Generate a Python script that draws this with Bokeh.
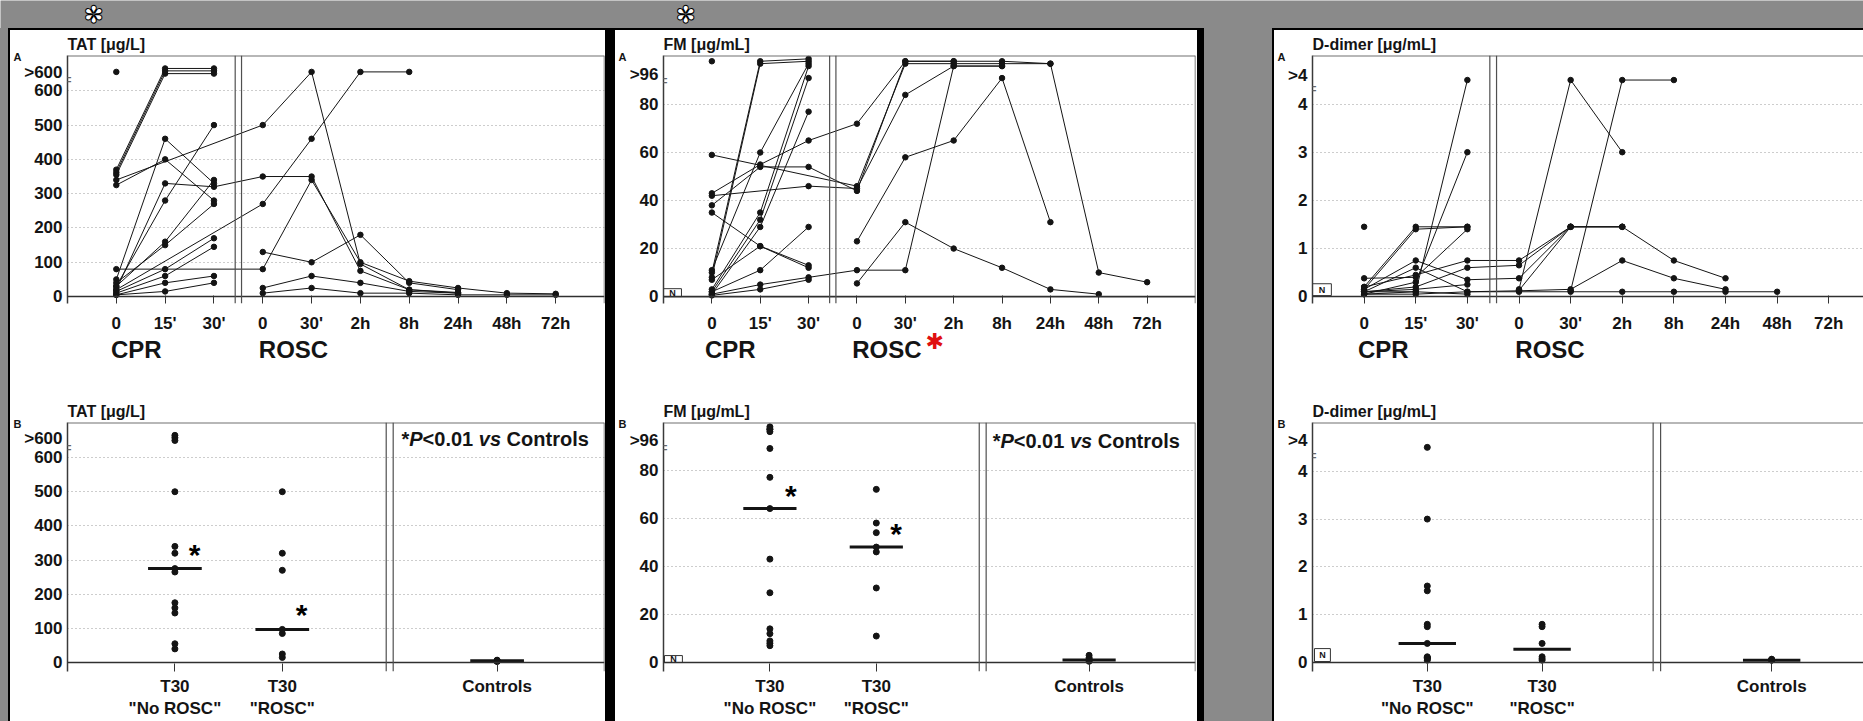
from bokeh.plotting import figure
from bokeh.models import Range1d, FixedTicker, LinearAxis, Span, Label, Div
from bokeh.layouts import row, column
from bokeh.embed import file_html
from bokeh.resources import INLINE

GRAY = "#8a8a8a"
INK = "#141414"
FONT = "Liberation Sans"
N = None

# ---------------- data ----------------
TIME_LABELS = ["0", "15'", "30'", "0", "30'", "2h", "8h", "24h", "48h", "72h"]
PHASE_LABELS = ["CPR", "ROSC"]
GROUP_LABELS = ['T30\n"No ROSC"', 'T30\n"ROSC"', "Controls"]

TAT_TICK_LABELS = ["0", "100", "200", "300", "400", "500", "600", ">600"]
FM_TICK_LABELS = ["0", "20", "40", "60", "80", ">96"]
DD_TICK_LABELS = ["0", "1", "2", "3", "4", ">4"]

# panel A: one list per patient, positions = TIME_LABELS (None = not measured)
TAT_A = [
    [370, 665, 665],
    [362, 658, 658],
    [355, 650, 650],
    [325, 400, 280],
    [50, 460, 330],
    [30, 280, 500],
    [20, 330, 320, 350, 350, 75, 20, 10],
    [40, 150, 270],
    [30, 160, 340],
    [15, 80, 170],
    [10, 60, 145],
    [5, 40, 60],
    [5, 15, 40],
    [80, N, N, 80, 340, 100, 45, 25, 10, 8],
    [20, N, N, 270, 460, 655, 655],
    [340, N, N, 500, 655, 95, 20, 12],
    [N, N, N, 130, 100, 180, 40, 20],
    [N, N, N, 25, 60, 40, 15, 10],
    [N, N, N, 10, 25, 10, 10, 5, 5, 5],
    [655],
]

FM_A = [
    [10, 98, 99],
    [8, 97, 98],
    [11, 60, 97],
    [3, 35, 96],
    [2, 32, 91],
    [1, 29, 77],
    [43, 55, 65, 72, 98, 98, 98, 97, 10, 6],
    [59, N, N, 46, 97, 97, 97, 97],
    [42, N, 46, 45, 84, 96, 96],
    [38, 54, 54, 44, 98, 98],
    [35, 21, 13],
    [7, 21, 12],
    [2, 11, 29],
    [1, 5, 8, 11, 11, 96, 96],
    [0.5, 3, 7],
    [N, N, N, 23, 58, 65, 91, 31],
    [N, N, N, 5.5, 31, 20, 12, 3, 1],
    [98],
]

DD_A = [
    [0.2, 1.45, 1.45],
    [0.15, 1.4, 1.45],
    [0.1, 0.1, 4.5],
    [0.05, 0.3, 3.0],
    [0.38, 0.4, 1.4],
    [0.15, 0.75, 0.35, 0.38, 1.45, 1.45],
    [0.1, 0.6, 0.1, 0.12, 0.15, 0.75, 0.38, 0.15],
    [0.2, 0.45, 0.75, 0.75, 1.45, 1.45, 0.75, 0.38],
    [0.1, 0.2, 0.6, 0.65, 1.45, 1.45],
    [0.05, 0.1, 0.05],
    [0.1, 0.15, 0.25],
    [0.05, 0.05, 0.1, 0.1, 0.1, 0.1, 0.1, 0.1, 0.1],
    [N, N, N, 0.15, 4.5, 3.0],
    [N, N, N, N, 0.12, 4.5, 4.5],
    [N, N, N, 0.13, 1.45],
    [1.45],
]

# panel B: T30 values per group
TAT_B_NO_ROSC = [665, 658, 650, 500, 340, 320, 275, 265, 175, 160, 145, 55, 40]
TAT_B_ROSC = [500, 320, 270, 97, 85, 25, 15]
TAT_B_CONTROLS = [3, 4, 5, 5, 6, 7]
TAT_B_MEDIANS = [275, 97, 5]

FM_B_NO_ROSC = [98, 97, 97, 96, 89, 77, 64, 43, 29, 14, 12, 9, 8, 7]
FM_B_ROSC = [72, 58, 54, 48, 46, 31, 11]
FM_B_CONTROLS = [0.5, 1, 1, 1.5, 2, 3]
FM_B_MEDIANS = [64, 48, 1]

DD_B_NO_ROSC = [4.5, 3.0, 1.6, 1.5, 0.8, 0.75, 0.4, 0.12, 0.1, 0.1, 0.08, 0.05]
DD_B_ROSC = [0.8, 0.75, 0.4, 0.12, 0.08, 0.05]
DD_B_CONTROLS = [0.05, 0.05, 0.06, 0.07]
DD_B_MEDIANS = [0.4, 0.28, 0.05]


# ---------------- helpers ----------------
def mapper(frame, xr, yr):
    fl, ft, fr, fb = frame

    def f(px, py):
        return (xr[0] + (px - fl) * (xr[1] - xr[0]) / (fr - fl),
                yr[1] - (py - ft) * (yr[1] - yr[0]) / (fb - ft))
    return f


def text_axis(ticks, labels, size, color=INK, standoff=0, style="bold", font=FONT):
    return LinearAxis(ticker=FixedTicker(ticks=ticks),
                      major_label_overrides=dict(zip(ticks, labels)),
                      axis_line_color=None, major_tick_line_color=None,
                      minor_tick_line_color=None, major_tick_in=0, major_tick_out=0,
                      major_label_standoff=standoff, major_label_text_font=font,
                      major_label_text_font_size=f"{size}px",
                      major_label_text_font_style=style, major_label_text_color=color)


def star_label(m, px, py, size, color="black"):
    x, y = m(px, py + 0.23 * size)
    return Label(x=x, y=y, text="*", text_font=FONT, text_font_size=f"{size}px",
                 text_font_style="bold", text_color=color, text_align="center",
                 text_baseline="middle")


def base_fig(canvas_left, canvas_top, w, h, frame, xr, yr, title, yticks, ylabels,
             grid, brk, letter, right_line, nbox):
    fl, ft, fr, fb = frame
    p = figure(width=w, height=h, x_range=Range1d(*xr), y_range=Range1d(*yr),
               toolbar_location=None, output_backend="svg",
               min_border_left=fl - canvas_left, min_border_right=canvas_left + w - fr,
               min_border_top=ft - canvas_top, min_border_bottom=canvas_top + h - fb,
               background_fill_color="white", border_fill_color="white",
               outline_line_color=None, title=title)
    p.title.text_font = FONT
    p.title.text_font_size = "16px"
    p.title.text_font_style = "bold"
    p.title.text_color = INK
    p.title.align = "left"
    p.title.standoff = 6
    p.xgrid.visible = False
    p.ygrid.ticker = FixedTicker(ticks=grid)
    p.ygrid.grid_line_color = "#9a9a9a"
    p.ygrid.grid_line_dash = "1 3"
    p.ygrid.grid_line_width = 1

    ya = p.yaxis[0]
    ya.ticker = FixedTicker(ticks=yticks)
    ya.major_label_overrides = dict(zip(yticks, ylabels))
    ya.axis_line_color = "#3a3a3a"
    ya.axis_line_width = 1.5
    ya.major_tick_line_color = None
    ya.minor_tick_line_color = None
    ya.major_tick_in = 0
    ya.major_tick_out = 0
    ya.major_label_standoff = 5
    ya.major_label_text_font = FONT
    ya.major_label_text_font_size = "17px"
    ya.major_label_text_font_style = "bold"
    ya.major_label_text_color = INK

    xa = p.xaxis[0]
    xa.axis_line_color = None
    xa.major_tick_line_color = "#333"
    xa.major_tick_in = 8
    xa.major_tick_out = 0
    xa.minor_tick_line_color = None
    xa.major_label_standoff = 10
    xa.major_label_text_font = FONT
    xa.major_label_text_font_size = "17px"
    xa.major_label_text_font_style = "bold"
    xa.major_label_text_color = INK

    m = mapper(frame, xr, yr)
    # panel letter as an outer left axis label near the top of the frame
    ly = m(0, ft + 2)[1]
    p.add_layout(text_axis([ly], [letter], 11), "left")

    p.add_layout(Span(location=0, dimension="width", line_color="#303030", line_width=1.6))
    p.add_layout(Span(location=yr[1], dimension="width", line_color="#707070", line_width=2))
    if right_line:
        p.add_layout(Span(location=xr[1], dimension="height", line_color="#555", line_width=1.5))
    p.add_layout(Label(x=xr[0], y=brk, text="=", text_font=FONT, text_font_size="15px",
                       text_color="#666", text_align="center", text_baseline="middle"))
    if nbox:
        x0, y0 = m(nbox[0], nbox[3])
        x1, y1 = m(nbox[2], nbox[1])
        p.quad(left=[x0], right=[x1], bottom=[y0], top=[y1], fill_color="white",
               line_color="#333", line_width=1)
        cx, cy = m((nbox[0] + nbox[2]) / 2, (nbox[1] + nbox[3]) / 2)
        p.add_layout(Label(x=cx, y=cy, text="N", text_font=FONT, text_font_size="9px",
                           text_font_style="bold", text_color=INK, text_align="center",
                           text_baseline="middle"))
    return p, m


def panel_a(canvas_left, w, frame, xr, yr, title, yticks, ylabels, grid, brk,
            series, phase_ticks, nbox=None, red_star=None, right_line=True):
    p, m = base_fig(canvas_left, 30, w, 345, frame, xr, yr, title, yticks, ylabels,
                    grid, brk, "A", right_line, nbox)
    xa = p.xaxis[0]
    xa.ticker = FixedTicker(ticks=list(range(len(TIME_LABELS))))
    xa.major_label_overrides = {i: t for i, t in enumerate(TIME_LABELS)}
    p.add_layout(text_axis(phase_ticks, PHASE_LABELS, 24), "below")
    if red_star is not None:
        # red asterisk beside "ROSC", pulled up next to the phase label
        p.add_layout(text_axis([red_star], ["✱"], 22, color="#e01010", standoff=-37,
                               style="normal", font="DejaVu Sans"), "below")
    for d in (-0.065, 0.065):
        p.add_layout(Span(location=2.5 + d, dimension="height", line_color="#505050",
                          line_width=1.2))
    xs, ys, px, py = [], [], [], []
    for s in series:
        pts = [(i, v) for i, v in enumerate(s) if v is not None]
        if len(pts) > 1:
            xs.append([a for a, _ in pts])
            ys.append([b for _, b in pts])
        px += [a for a, _ in pts]
        py += [b for _, b in pts]
    p.multi_line(xs, ys, line_color=INK, line_width=1)
    p.scatter(px, py, size=5.5, color=INK)
    return p


def panel_b(canvas_left, w, frame, xr, yr, title, yticks, ylabels, grid, brk,
            groups, medians, stars=(), p_label=None, nbox=None, right_line=True):
    p, m = base_fig(canvas_left, 375, w, 346, frame, xr, yr, title, yticks, ylabels,
                    grid, brk, "B", right_line, nbox)
    positions = [2, 4, 8]
    xa = p.xaxis[0]
    xa.ticker = FixedTicker(ticks=positions)
    xa.major_label_overrides = dict(zip(positions, GROUP_LABELS))
    xa.major_label_standoff = 5
    for d in (-0.065, 0.065):
        p.add_layout(Span(location=6 + d, dimension="height", line_color="#505050",
                          line_width=1.2))
    for pos, vals, med in zip(positions, groups, medians):
        p.scatter([pos] * len(vals), vals, size=6, color=INK)
        p.segment(x0=[pos - 0.5], y0=[med], x1=[pos + 0.5], y1=[med],
                  line_color=INK, line_width=3)
    for sx, sy in stars:
        p.add_layout(star_label(m, sx, sy, 30))
    if p_label:
        x, y = m(*p_label)
        parts = [("*", "bold", 0), ("P", "bold italic", 7.8), ("<0.01", "bold", 21.1),
                 ("vs", "bold italic", 77.3), ("Controls", "bold", 105.1)]
        for txt, style, off in parts:
            p.add_layout(Label(x=x, y=y, x_offset=off, text=txt, text_font=FONT,
                               text_font_size="20px", text_font_style=style,
                               text_color=INK, text_align="left", text_baseline="middle"))
    return p


# ---------------- panels ----------------
c1a = panel_a(10, 595, (67, 52, 604, 303), (-1, 10), (-20.2, 702.8), "TAT [μg/L]",
              [0, 100, 200, 300, 400, 500, 600, 654], TAT_TICK_LABELS,
              [100, 200, 300, 400, 500, 600], 632, TAT_A, [0.41, 3.63])
c2a = panel_a(615, 582, (663, 52, 1196, 303), (-1, 10), (-2.88, 100.4), "FM [μg/mL]",
              [0, 20, 40, 60, 80, 92.6], FM_TICK_LABELS, [20, 40, 60, 80], 90.1,
              FM_A, [0.38, 3.62], nbox=(663, 288, 681, 296), red_star=4.61)
c3a = panel_a(1274, 589, (1308, 52, 1863, 303), (-1, 9.673), (-0.144, 5.01),
              "D-dimer [μg/mL]", [0, 1, 2, 3, 4, 4.6], DD_TICK_LABELS, [1, 2, 3, 4],
              4.33, DD_A, [0.37, 3.6], nbox=(1308, 283, 1327, 295), right_line=False)

c1b = panel_b(10, 595, (67, 422, 604, 672), (0, 10), (-26.2, 702.6), "TAT [μg/L]",
              [0, 100, 200, 300, 400, 500, 600, 656], TAT_TICK_LABELS,
              [100, 200, 300, 400, 500, 600], 630,
              [TAT_B_NO_ROSC, TAT_B_ROSC, TAT_B_CONTROLS], TAT_B_MEDIANS,
              stars=[(194, 548), (301, 608)], p_label=(401, 439))
c2b = panel_b(615, 582, (660, 422, 1195, 672), (0, 10), (-3.73, 99.8), "FM [μg/mL]",
              [0, 20, 40, 60, 80, 92.3], FM_TICK_LABELS, [20, 40, 60, 80], 89.4,
              [FM_B_NO_ROSC, FM_B_ROSC, FM_B_CONTROLS], FM_B_MEDIANS,
              stars=[(788, 488), (894, 527)], p_label=(991, 441),
              nbox=(661, 656, 679, 663))
c3b = panel_b(1274, 589, (1309, 422, 1863, 672), (0, 9.60), (-0.1875, 5.02),
              "D-dimer [μg/mL]", [0, 1, 2, 3, 4, 4.65], DD_TICK_LABELS, [1, 2, 3, 4],
              4.33, [DD_B_NO_ROSC, DD_B_ROSC, DD_B_CONTROLS], DD_B_MEDIANS,
              nbox=(1311, 649, 1327, 662), right_line=False)

# ---------------- page ----------------
strip = figure(width=1863, height=28, x_range=Range1d(0, 1863), y_range=Range1d(28, 0),
               toolbar_location=None, output_backend="svg", min_border=0,
               background_fill_color=GRAY, border_fill_color=GRAY, outline_line_color=None,
               x_axis_type=None, y_axis_type=None)
strip.grid.visible = False
for sx in (93, 685):
    strip.add_layout(Label(x=sx, y=14.5, text="✽", text_font="DejaVu Sans",
                           text_font_size="24px", text_font_style="bold",
                           text_color="white", text_outline_color="black",
                           text_align="center", text_baseline="middle"))


def block(w, h, color):
    return Div(text="", width=w, height=h, margin=0,
               styles={"background-color": color})


col1 = column(block(595, 2, "black"), c1a, c1b, spacing=0)
col2 = column(block(582, 2, "black"), c2a, c2b, spacing=0)
col3 = column(block(589, 2, "black"), c3a, c3b, spacing=0)
mid = row(block(8, 693, GRAY), block(2, 693, "black"), col1, block(10, 693, "black"),
          col2, block(7, 693, "black"), block(68, 693, GRAY), block(2, 693, "black"),
          col3, spacing=0)
page = column(strip, mid, spacing=0)

open("out.html", "w").write(file_html(page, INLINE))
